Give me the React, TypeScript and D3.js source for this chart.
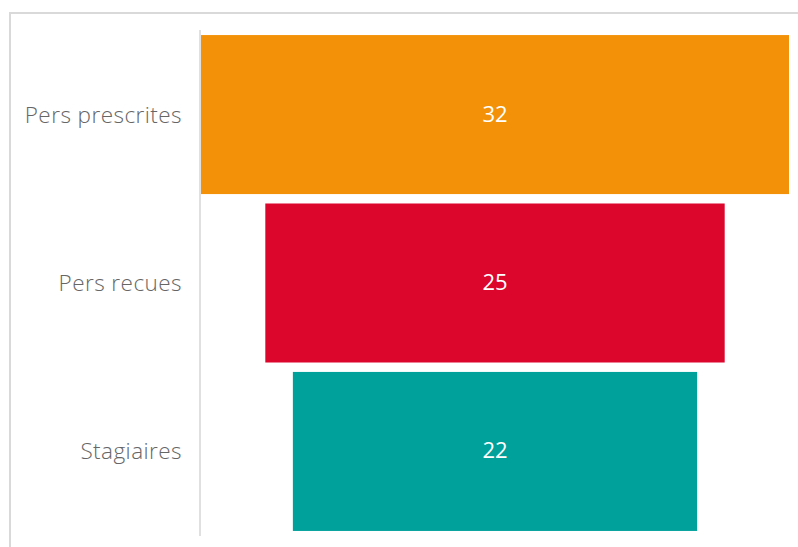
import React from "react";
import * as d3 from "d3";

const categories = ["Pers prescrites", "Pers recues", "Stagiaires"];
const values = [32, 25, 22];
const colors = ["#F39208", "#DC052C", "#00A19A"];

const W = 798;
const H = 547;

export default function App() {
  const axisX = 201;
  const right = 789;
  const center = (axisX + right) / 2;
  const maxV = d3.max(values) as number;
  const half = d3.scaleLinear().domain([0, maxV]).range([0, (right - axisX) / 2]);
  const y = d3
    .scaleBand<string>()
    .domain(categories)
    .range([30, 536])
    .paddingInner(0.056)
    .paddingOuter(0.03);

  return (
    <div style={{ position: "fixed", left: 0, top: 0 }}>
      <svg width={W} height={H} style={{ display: "block", background: "#fff" }}>
        <path d={`M10,${H} V13 H${W}`} fill="none" stroke="#d9d9d9" strokeWidth={2} />
        {categories.map((c, i) => {
          const w = half(values[i]);
          const y0 = y(c) as number;
          const bh = y.bandwidth();
          const mid = y0 + bh / 2;
          return (
            <g key={c}>
              <rect x={center - w} y={y0} width={2 * w} height={bh} fill={colors[i]} />
              <text
                x={center}
                y={mid + 7}
                textAnchor="middle"
                fill="#fff"
                fontFamily="'Open Sans', sans-serif"
                fontSize={22}
              >
                {values[i]}
              </text>
              <text
                x={182}
                y={mid + 8}
                textAnchor="end"
                fill="#666"
                fontFamily="'Open Sans', sans-serif"
                fontWeight={300}
                fontSize={22.5}
                letterSpacing={0.45}
              >
                {c}
              </text>
            </g>
          );
        })}
        <line x1={axisX - 1} x2={axisX - 1} y1={30} y2={536} stroke="#e0e0e0" strokeWidth={2} />
      </svg>
    </div>
  );
}
